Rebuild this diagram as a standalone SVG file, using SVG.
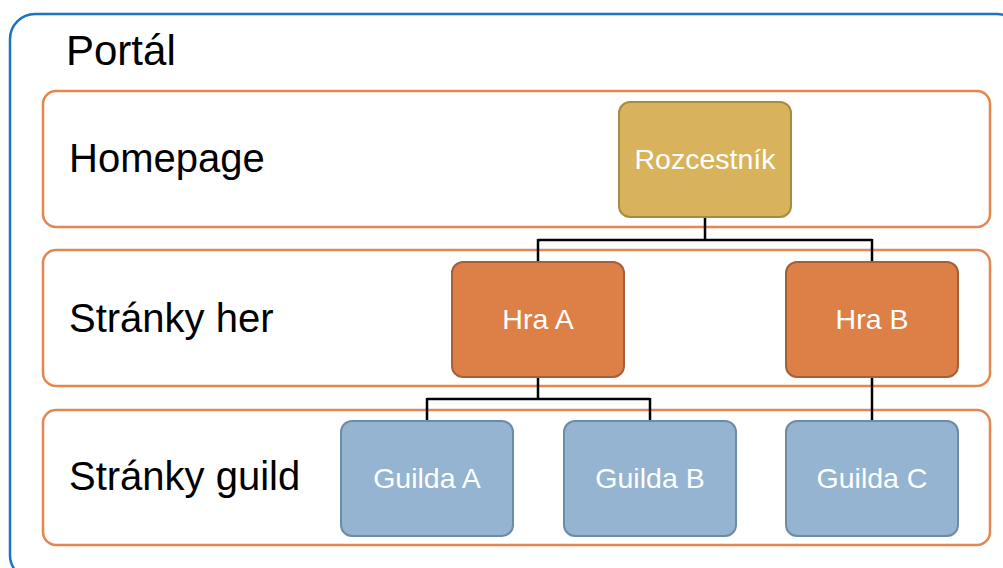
<svg xmlns="http://www.w3.org/2000/svg" width="1003" height="568" viewBox="0 0 1003 568">
<style>
.band{fill:#fff;stroke:#E3874E;stroke-width:2.5}
.lbl{font-family:"Liberation Sans",Arial,sans-serif;font-size:40px;fill:#000}
.nt{font-family:"Liberation Sans",Arial,sans-serif;font-size:28.5px;fill:#fff;text-anchor:middle}
.gold{fill:#D8B35C;stroke:#A98A44;stroke-width:2}
.org{fill:#DD8048;stroke:#A5603A;stroke-width:2}
.blu{fill:#94B4D2;stroke:#6E8BA5;stroke-width:2}
.con{fill:none;stroke:#000;stroke-width:2.5}
</style>
<rect width="1003" height="568" fill="#fff"/>
<g id="portal">
<rect x="10" y="14" width="1012" height="566" rx="25" fill="#fff" stroke="#1A73C4" stroke-width="2.5"/>
<text class="lbl" x="66" y="65" style="font-size:42px">Portál</text>
</g>
<g id="band-homepage">
<rect class="band" x="43" y="91" width="947" height="136" rx="13"/>
<text class="lbl" x="69" y="172">Homepage</text>
</g>
<g id="band-her">
<rect class="band" x="43" y="250" width="947" height="136" rx="13"/>
<text class="lbl" x="69" y="332">Stránky her</text>
</g>
<g id="band-guild">
<rect class="band" x="43" y="410" width="947" height="135" rx="13"/>
<text class="lbl" x="69" y="490">Stránky guild</text>
</g>
<g id="connectors">
<path class="con" d="M705 217V240M538 240H872M538 239V262M872 239V262"/>
<path class="con" d="M538 377V399M427 399H650M427 398V421M650 398V421"/>
<path class="con" d="M872 377V421"/>
</g>
<g id="rozcestnik">
<rect class="gold" x="619" y="102" width="172" height="115" rx="11"/>
<text class="nt" x="705" y="169">Rozcestník</text>
</g>
<g id="hra-a">
<rect class="org" x="452" y="262" width="172" height="115" rx="11"/>
<text class="nt" x="538" y="329">Hra A</text>
</g>
<g id="hra-b">
<rect class="org" x="786" y="262" width="172" height="115" rx="11"/>
<text class="nt" x="872" y="329">Hra B</text>
</g>
<g id="guilda-a">
<rect class="blu" x="341" y="421" width="172" height="115" rx="11"/>
<text class="nt" x="427" y="488">Guilda A</text>
</g>
<g id="guilda-b">
<rect class="blu" x="564" y="421" width="172" height="115" rx="11"/>
<text class="nt" x="650" y="488">Guilda B</text>
</g>
<g id="guilda-c">
<rect class="blu" x="786" y="421" width="172" height="115" rx="11"/>
<text class="nt" x="872" y="488">Guilda C</text>
</g>
</svg>
